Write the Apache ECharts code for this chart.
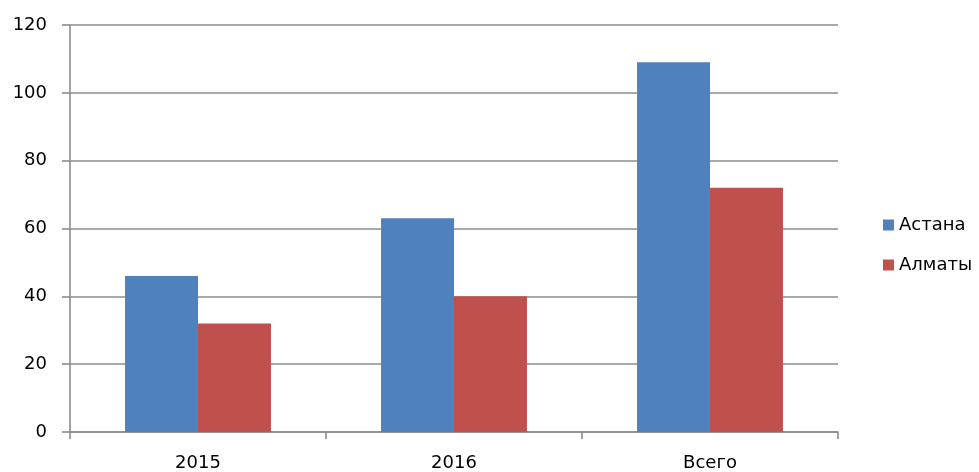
<!DOCTYPE html>
<html>
<head>
<meta charset="utf-8">
<script src="https://cdn.jsdelivr.net/npm/echarts@6/dist/echarts.min.js"></script>
<style>
  html, body { margin: 0; padding: 0; background: #fff; }
  #chart { width: 979px; height: 472px; }
</style>
</head>
<body>
<div id="chart"></div>
<script>
// Категории и значения по городам
const categories = ['2015', '2016', 'Всего'];
const astana = [46, 63, 109];
const almaty = [32, 40, 72];
const seriesNames = ['Астана', 'Алматы'];
const yTicks = { min: 0, max: 120, interval: 20 };

const axisGray = '#8c8c8c';
const font = '"DejaVu Sans", "Open Sans", sans-serif';

const chart = echarts.init(document.getElementById('chart'), null, { renderer: 'canvas' });
chart.setOption({
  animation: false,
  backgroundColor: '#ffffff',
  color: ['#4F81BD', '#C0504D'],
  grid: { left: 70, right: 141, top: 25, bottom: 40, containLabel: false },
  legend: {
    orient: 'vertical',
    left: 878,
    top: 211,
    itemWidth: 11,
    itemHeight: 11,
    itemGap: 22,
    itemTextGap: 8,
    icon: 'rect',
    textStyle: { fontFamily: font, fontSize: 18, color: '#000' },
    data: seriesNames
  },
  xAxis: {
    type: 'category',
    data: categories,
    axisLine: { lineStyle: { color: axisGray, width: 1.6 } },
    axisTick: { show: true, alignWithLabel: false, length: 7, lineStyle: { color: axisGray, width: 1.6 } },
    axisLabel: { fontFamily: font, fontSize: 18, color: '#000', margin: 22 },
    splitLine: { show: false }
  },
  yAxis: {
    type: 'value',
    min: yTicks.min,
    max: yTicks.max,
    interval: yTicks.interval,
    axisLine: { show: true, lineStyle: { color: axisGray, width: 1.6 } },
    axisTick: { show: true, inside: false, length: 8, lineStyle: { color: axisGray, width: 1.6 } },
    axisLabel: { fontFamily: font, fontSize: 18, color: '#000', margin: 23 },
    splitLine: { show: true, lineStyle: { color: axisGray, width: 1.6 } }
  },
  series: [
    {
      name: seriesNames[0],
      type: 'bar',
      data: astana,
      barGap: '0%',
      barCategoryGap: '43%'
    },
    {
      name: seriesNames[1],
      type: 'bar',
      data: almaty,
      barGap: '0%',
      barCategoryGap: '43%'
    }
  ]
});
</script>
</body>
</html>
